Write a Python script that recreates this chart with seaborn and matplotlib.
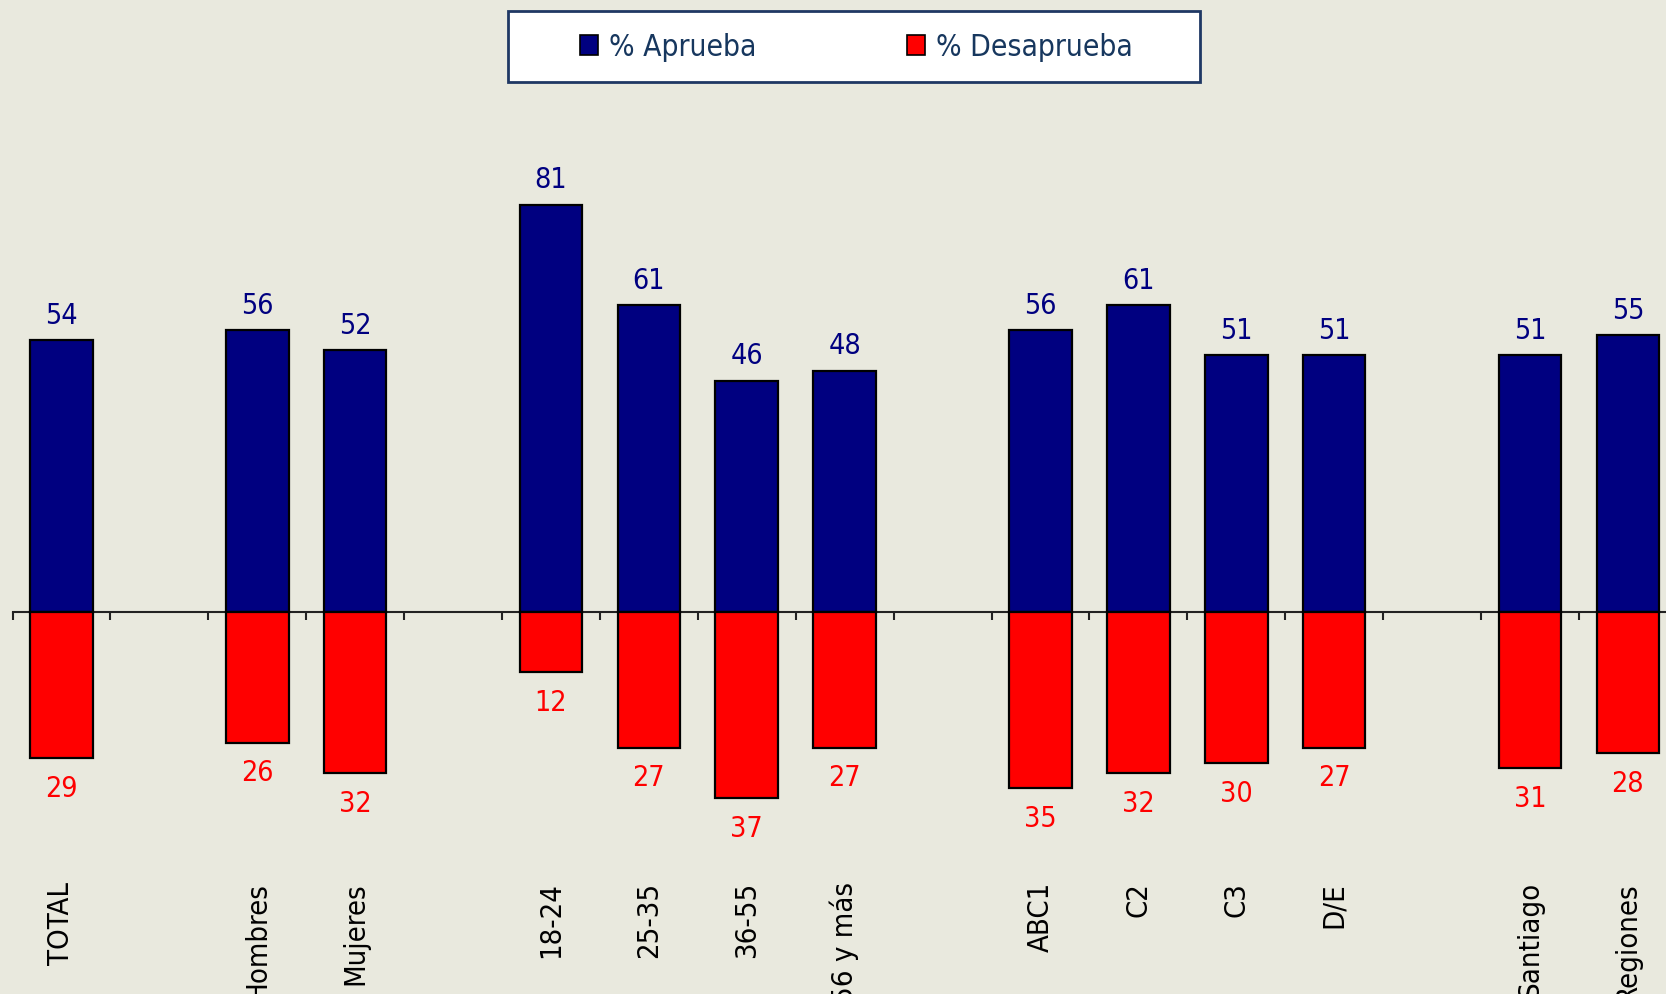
import matplotlib
matplotlib.use("Agg")
import matplotlib.pyplot as plt
import seaborn as sns
import pandas as pd
import numpy as np
from matplotlib.patches import Patch, Rectangle
from matplotlib.font_manager import FontProperties

# ---- data ----
slots = ["TOTAL", " ", "Hombres", "Mujeres", "  ", "18-24", "25-35", "36-55",
         "56 y más", "   ", "ABC1", "C2", "C3", "D/E", "    ", "Santiago", "Regiones"]
categories = ["TOTAL", "Hombres", "Mujeres", "18-24", "25-35", "36-55", "56 y más",
              "ABC1", "C2", "C3", "D/E", "Santiago", "Regiones"]
aprueba = [54, 56, 52, 81, 61, 46, 48, 56, 61, 51, 51, 51, 55]
desaprueba = [29, 26, 32, 12, 27, 37, 27, 35, 32, 30, 27, 31, 28]
series = ["% Aprueba", "% Desaprueba"]

BG = "#E9E9DE"
NAVY = "#000080"
RED = "#FF0000"
LEGEND_TXT = "#17375E"

df = pd.DataFrame({"cat": categories,
                   "aprueba": aprueba,
                   "desaprueba": [-v for v in desaprueba]})

sns.set_theme(style="white")
plt.rcParams["font.family"] = ["DejaVu Sans"]

cond = dict(family="DejaVu Sans", stretch="condensed")

W, H = 1666, 994
fig = plt.figure(figsize=(W / 100, H / 100), dpi=100)
fig.patch.set_facecolor(BG)

slot_w = 97.9
ax = fig.add_axes([12.5 / W, 0, 17 * slot_w / W, 1])
ax.set_facecolor(BG)

sns.barplot(data=df, x="cat", y="aprueba", order=slots, color=NAVY, width=0.64,
            edgecolor="black", linewidth=1.6, saturation=1, ax=ax)
sns.barplot(data=df, x="cat", y="desaprueba", order=slots, color=RED, width=0.64,
            edgecolor="black", linewidth=1.6, saturation=1, ax=ax)

# scale: zero line at 612 px from top, ~5.03 px per unit
ppu = 5.03
ax.set_ylim(-(H - 612) / ppu, 612 / ppu)
ax.set_xlim(-0.5, len(slots) - 0.5)

ax.bar_label(ax.containers[0], fmt=lambda v: f"{abs(v):.0f}", padding=7.5,
             color=NAVY, fontproperties=FontProperties(size=20.5, **cond))
ax.bar_label(ax.containers[1], fmt=lambda v: f"{abs(v):.0f}", padding=12,
             color=RED, fontproperties=FontProperties(size=20.5, **cond))

for s in ["top", "left", "right"]:
    ax.spines[s].set_visible(False)
ax.spines["bottom"].set_position(("data", 0))
ax.spines["bottom"].set_color("#222222")
ax.spines["bottom"].set_linewidth(1.5)
ax.spines["bottom"].set_zorder(0.5)

ax.set_yticks([])
ax.set_xticks(range(len(slots)))
ax.set_xticklabels(slots, rotation=90, color="black",
                   fontproperties=FontProperties(size=21, **cond))
ax.set_xticks(np.arange(-0.5, len(slots), 1), minor=True)
ax.tick_params(axis="x", which="major", length=0, pad=270 * 72 / 100)
ax.tick_params(axis="x", which="minor", length=8 * 0.72, width=1.5,
               direction="out", color="#222222", bottom=True)
ax.set_xlabel("")
ax.set_ylabel("")
ax.grid(False)

# legend frame
fig.add_artist(Rectangle((508 / W, 1 - 82 / H), 692 / W, 71 / H,
                         transform=fig.transFigure, facecolor="white",
                         edgecolor="#1F3864", linewidth=2, zorder=1))
handles = [Patch(facecolor=NAVY, edgecolor="black", linewidth=1.2),
           Patch(facecolor=RED, edgecolor="black", linewidth=1.2)]
leg = fig.legend(handles=handles, labels=series, loc="center",
                 bbox_to_anchor=(856 / W, 1 - 47 / H), ncol=2, frameon=False,
                 prop=FontProperties(size=21.5, **cond),
                 handlelength=0.62, handleheight=0.62,
                 handletextpad=0.35, columnspacing=5.05, labelcolor=LEGEND_TXT)
leg.set_zorder(2)

fig.savefig("out.png", dpi=100, facecolor=BG)
